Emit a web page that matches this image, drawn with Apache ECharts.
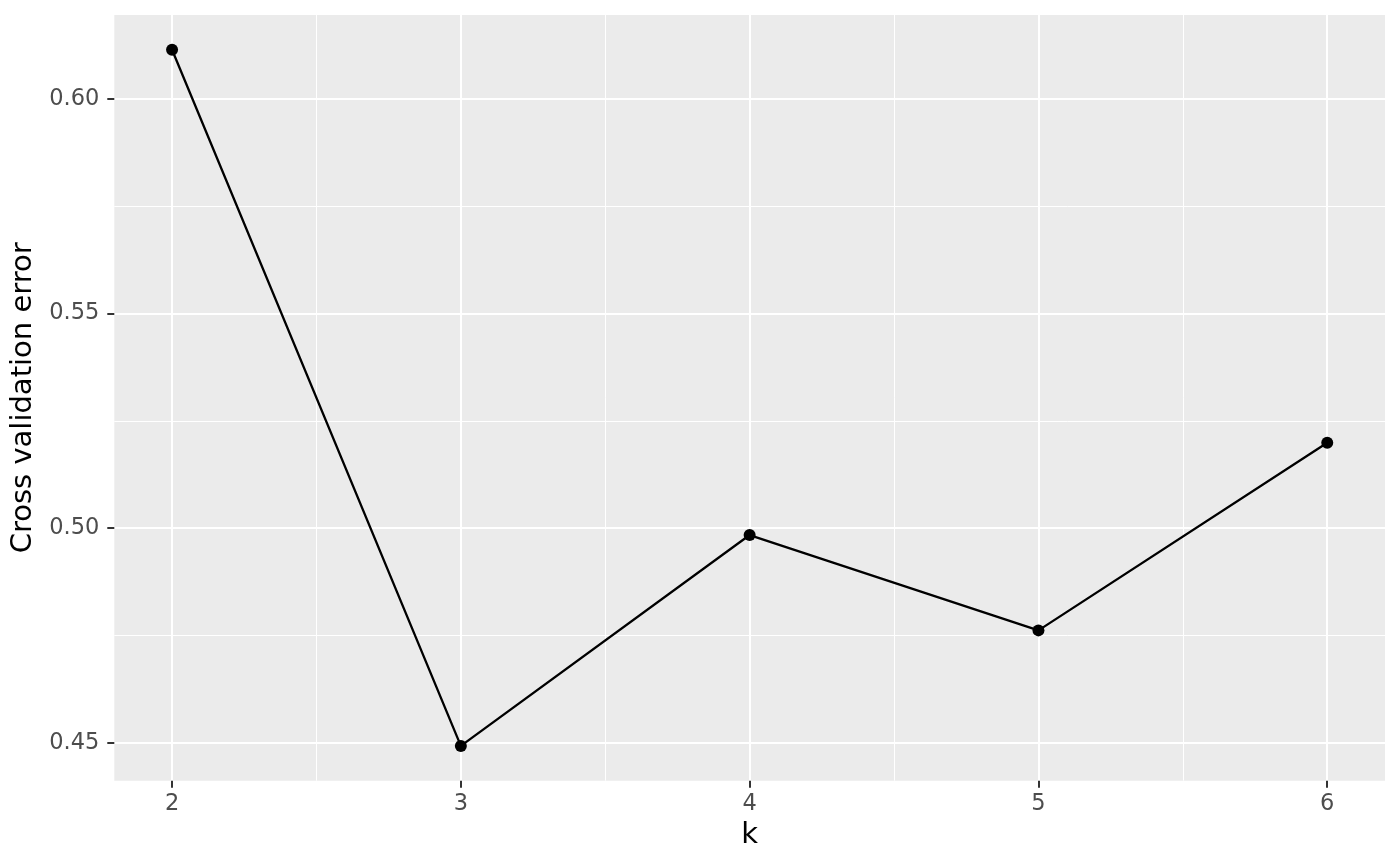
<!DOCTYPE html>
<html>
<head>
<meta charset="utf-8">
<script src="https://cdn.jsdelivr.net/npm/echarts@6/dist/echarts.min.js"></script>
<style>
html,body{margin:0;padding:0;background:#fff;}
#chart{width:1400px;height:865px;}
</style>
</head>
<body>
<div id="chart"></div>
<script>
// Data
const kValues = [2, 3, 4, 5, 6];
const cvError = [0.6114, 0.4493, 0.4984, 0.4762, 0.5199];
// Tick positions
const xMajorTicks = [2, 3, 4, 5, 6];
const xMinorTicks = [2.5, 3.5, 4.5, 5.5];
const yMajorTicks = [0.45, 0.50, 0.55, 0.60];
const yMinorTicks = [0.475, 0.525, 0.575];
const xTitle = 'k';
const yTitle = 'Cross validation error';

// ggplot-style 5% expansion of the data range
function expand(arr) {
  const lo = Math.min.apply(null, arr), hi = Math.max.apply(null, arr);
  const pad = (hi - lo) * 0.05;
  return [lo - pad, hi + pad];
}
const xr = expand(kValues);
const yr = expand(cvError);

const FONT = 'DejaVu Sans';
const chart = echarts.init(document.getElementById('chart'), null, {renderer: 'canvas'});

function baseAxis(range) {
  return {type: 'value', min: range[0], max: range[1], scale: true, axisLine: {show: false}};
}

chart.setOption({
  animation: false,
  backgroundColor: '#ffffff',
  grid: {left: 114.3, right: 15, top: 15, bottom: 84.3, containLabel: false,
         show: true, backgroundColor: '#EBEBEB', borderWidth: 0},
  xAxis: [
    Object.assign(baseAxis(xr), {
      name: xTitle, nameLocation: 'middle', nameGap: 37,
      nameTextStyle: {fontFamily: FONT, fontSize: 29, color: '#000'},
      axisTick: {show: true, length: 7, lineStyle: {color: '#333333', width: 2}, customValues: xMajorTicks},
      axisLabel: {customValues: xMajorTicks, margin: 12, fontFamily: FONT, fontSize: 22.5, color: '#4D4D4D',
                  formatter: v => String(v)},
      splitLine: {show: true, lineStyle: {color: '#ffffff', width: 2}}
    }),
    Object.assign(baseAxis(xr), {
      axisTick: {show: false, customValues: xMinorTicks},
      axisLabel: {show: false, customValues: xMinorTicks},
      splitLine: {show: true, lineStyle: {color: '#ffffff', width: 1}}
    })
  ],
  yAxis: [
    Object.assign(baseAxis(yr), {
      name: yTitle, nameLocation: 'middle', nameGap: 74, nameRotate: 90,
      nameTextStyle: {fontFamily: FONT, fontSize: 29, color: '#000'},
      axisTick: {show: true, length: 7, lineStyle: {color: '#333333', width: 2}, customValues: yMajorTicks},
      axisLabel: {customValues: yMajorTicks, margin: 15, fontFamily: FONT, fontSize: 22.5, color: '#4D4D4D',
                  formatter: v => v.toFixed(2)},
      splitLine: {show: true, lineStyle: {color: '#ffffff', width: 2}}
    }),
    Object.assign(baseAxis(yr), {
      axisTick: {show: false, customValues: yMinorTicks},
      axisLabel: {show: false, customValues: yMinorTicks},
      splitLine: {show: true, lineStyle: {color: '#ffffff', width: 1}}
    })
  ],
  series: [{
    type: 'line',
    xAxisIndex: 0, yAxisIndex: 0,
    data: kValues.map((k, i) => [k, cvError[i]]),
    symbol: 'circle', symbolSize: 12,
    lineStyle: {color: '#000', width: 2.3},
    itemStyle: {color: '#000'},
    z: 5
  }]
});
</script>
</body>
</html>
